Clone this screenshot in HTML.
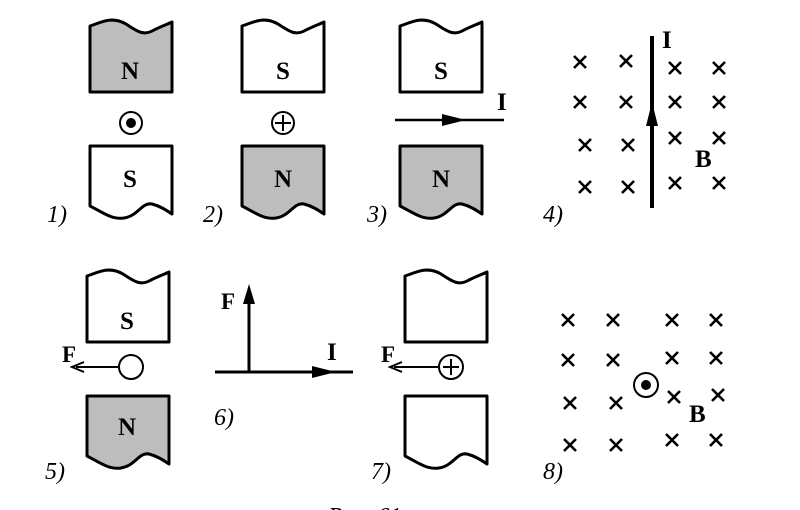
<!DOCTYPE html>
<html><head><meta charset="utf-8"><style>
html,body{margin:0;padding:0;background:#fff;}
svg{display:block;font-family:"Liberation Serif","Times New Roman",serif;}
text{font-family:"Liberation Serif","Times New Roman",serif;font-weight:bold;fill:#000;}
text.it{font-style:italic;font-weight:normal;}
</style></head><body>
<svg width="800" height="510" viewBox="0 0 800 510" xmlns="http://www.w3.org/2000/svg" font-family="Liberation Serif, serif">
<defs>
<path id="top" d="M0,72 L0,6 C12,2 22,-4 36,4 C48,12 54,16 64,10 C72,6 78,4 82,2 L82,72 Z"/>
<path id="bot" d="M0,0 L82,0 L82,68 C76,64 70,60 62,58 C52,56 48,70 34,72 C22,74 12,66 0,60 Z"/>
<g id="x"><path d="M-6,-6 L6,6 M6,-6 L-6,6" stroke="#000" stroke-width="2.6"/></g>
</defs>
<g stroke="#000" stroke-width="3" stroke-linejoin="round">
<use href="#top" x="90" y="20" fill="#bdbdbd"/>
<use href="#bot" x="90" y="146" fill="#fff"/>
<use href="#top" x="242" y="20" fill="#fff"/>
<use href="#bot" x="242" y="146" fill="#bdbdbd"/>
<use href="#top" x="400" y="20" fill="#fff"/>
<use href="#bot" x="400" y="146" fill="#bdbdbd"/>
<use href="#top" x="87" y="270" fill="#fff"/>
<use href="#bot" x="87" y="396" fill="#bdbdbd"/>
<use href="#top" x="405" y="270" fill="#fff"/>
<use href="#bot" x="405" y="396" fill="#fff"/>
</g>
<g font-size="25" text-anchor="middle" font-family="Liberation Serif, serif" font-weight="bold">
<text x="130" y="79">N</text><text x="130" y="187">S</text>
<text x="283" y="79">S</text><text x="283" y="187">N</text>
<text x="441" y="79">S</text><text x="441" y="187">N</text>
<text x="127" y="329">S</text><text x="127" y="435">N</text>
</g>
<circle cx="131" cy="123" r="11" fill="#fff" stroke="#000" stroke-width="2"/>
<circle cx="131" cy="123" r="5" fill="#000"/>
<circle cx="283" cy="123" r="11" fill="#fff" stroke="#000" stroke-width="2"/>
<path d="M283,115 V131 M275,123 H291" stroke="#000" stroke-width="2"/>
<line x1="395" y1="120" x2="504" y2="120" stroke="#000" stroke-width="2.5"/>
<path d="M442,114 L466,120 L442,126 Z" fill="#000"/>
<text x="497" y="110" font-size="25">I</text>
<line x1="652" y1="36" x2="652" y2="208" stroke="#000" stroke-width="4"/>
<path d="M646,126 L652,102 L658,126 Z" fill="#000"/>
<text x="662" y="48" font-size="25">I</text>
<text x="695" y="167" font-size="25">B</text>
<use href="#x" x="580" y="62"/><use href="#x" x="626" y="61"/><use href="#x" x="675" y="68"/><use href="#x" x="719" y="68"/>
<use href="#x" x="580" y="102"/><use href="#x" x="626" y="102"/><use href="#x" x="675" y="102"/><use href="#x" x="719" y="102"/>
<use href="#x" x="585" y="145"/><use href="#x" x="628" y="145"/><use href="#x" x="675" y="138"/><use href="#x" x="719" y="138"/>
<use href="#x" x="585" y="187"/><use href="#x" x="628" y="187"/><use href="#x" x="675" y="183"/><use href="#x" x="719" y="183"/>
<circle cx="131" cy="367" r="12" fill="#fff" stroke="#000" stroke-width="2"/>
<line x1="119" y1="367" x2="76" y2="367" stroke="#000" stroke-width="2"/>
<path d="M84,362 L72,367 L84,372" fill="none" stroke="#000" stroke-width="2"/>
<text x="62" y="362" font-size="23">F</text>
<line x1="249" y1="372" x2="249" y2="298" stroke="#000" stroke-width="3"/>
<path d="M243,304 L249,284 L255,304 Z" fill="#000"/>
<line x1="215" y1="372" x2="353" y2="372" stroke="#000" stroke-width="3"/>
<path d="M312,366 L336,372 L312,378 Z" fill="#000"/>
<text x="221" y="309" font-size="23">F</text>
<text x="327" y="360" font-size="25">I</text>
<circle cx="451" cy="367" r="12" fill="#fff" stroke="#000" stroke-width="2"/>
<path d="M451,359 V375 M443,367 H459" stroke="#000" stroke-width="2"/>
<line x1="439" y1="367" x2="394" y2="367" stroke="#000" stroke-width="2"/>
<path d="M402,362 L390,367 L402,372" fill="none" stroke="#000" stroke-width="2"/>
<text x="381" y="362" font-size="23">F</text>
<use href="#x" x="568" y="320"/><use href="#x" x="613" y="320"/><use href="#x" x="672" y="320"/><use href="#x" x="716" y="320"/>
<use href="#x" x="568" y="360"/><use href="#x" x="613" y="360"/><use href="#x" x="672" y="358"/><use href="#x" x="716" y="358"/>
<use href="#x" x="570" y="403"/><use href="#x" x="616" y="403"/><use href="#x" x="674" y="397"/><use href="#x" x="718" y="395"/>
<use href="#x" x="570" y="445"/><use href="#x" x="616" y="445"/><use href="#x" x="672" y="440"/><use href="#x" x="716" y="440"/>
<circle cx="646" cy="385" r="12" fill="#fff" stroke="#000" stroke-width="2"/>
<circle cx="646" cy="385" r="5" fill="#000"/>
<text x="689" y="422" font-size="25">B</text>
<g font-size="24">
<text class="it" x="47" y="222">1)</text>
<text class="it" x="203" y="222">2)</text>
<text class="it" x="367" y="222">3)</text>
<text class="it" x="543" y="222">4)</text>
<text class="it" x="45" y="479">5)</text>
<text class="it" x="214" y="425">6)</text>
<text class="it" x="371" y="479">7)</text>
<text class="it" x="543" y="479">8)</text>
<text class="it" x="328" y="524">Рис. 61</text>
</g>
</svg>
</body></html>
